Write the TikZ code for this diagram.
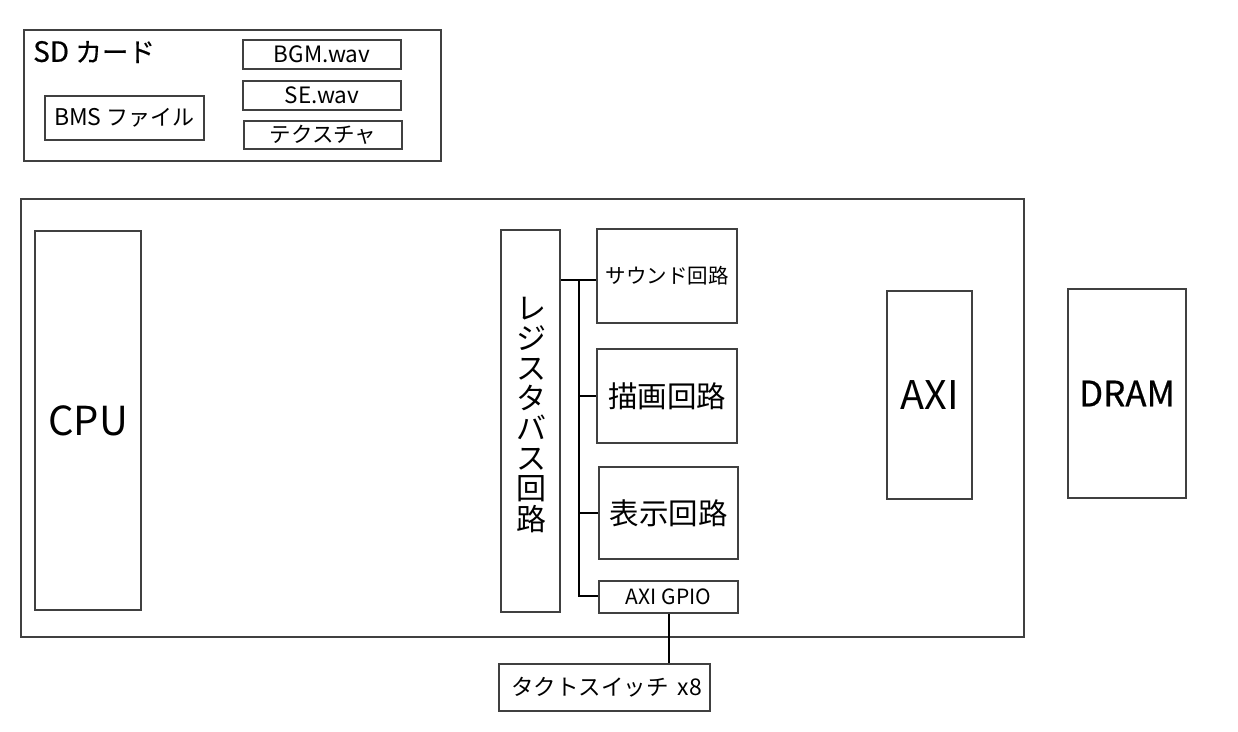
\documentclass[tikz,border=0pt]{standalone}
\usepackage{fontspec}
\setmainfont{Noto Sans CJK JP}
\newfontfamily\heavy{Noto Sans CJK JP}[FakeBold=0.5]
\newcommand{\fs}[1]{\fontsize{#1}{#1}\selectfont}
\begin{document}
\begin{tikzpicture}[x=1pt,y=-1pt,
  box/.style={draw=black!75, line width=1.1pt, rectangle, inner sep=0pt, fill=none},
  wire/.style={draw=black, line width=2pt}]
\useasboundingbox (0,0) rectangle (1238,731);
% SD card
\node[box, minimum width=417, minimum height=131] (sd) at (232.5,95.5) {};
\node[anchor=west, inner sep=0pt, font=\fs{28}\heavy] (sdlabel) at (33,52) {SD {\fs{26.5}カード}};
\node[box, minimum width=158, minimum height=29, font=\fs{22.5}] (bgm) at (322,54.5) {BGM.wav};
\node[box, minimum width=158, minimum height=29, font=\fs{22.5}] (se) at (322,95.5) {SE.wav};
\node[box, minimum width=158, minimum height=28, font=\fs{21.5}] (tex) at (323,135) {テクスチャ};
\node[box, minimum width=159, minimum height=44, font=\fs{23}] (bms) at (124.5,118) {BMS {\fs{22}ファイル}};
% main board
\node[box, minimum width=1003, minimum height=438] (main) at (522.5,418) {};
\node[box, minimum width=106, minimum height=379, font=\fs{40}] (cpu) at (88,420.5) {CPU};
\node[box, minimum width=59, minimum height=382] (reg) at (530.5,421) {};
\node[align=center, inner sep=0pt, font=\fs{30}] (regtext) at (531,415) {レ\\ジ\\ス\\タ\\バ\\ス\\回\\路};
\node[box, minimum width=140, minimum height=94, font=\fs{20.5}] (sound) at (667,276) {サウンド回路};
\node[box, minimum width=140, minimum height=94, font=\fs{29.5}] (drawc) at (667,396) {描画回路};
\node[box, minimum width=139, minimum height=92, font=\fs{29.5}] (disp) at (668.5,513) {表示回路};
\node[box, minimum width=139, minimum height=32, font=\fs{21}] (gpio) at (668.5,597) {AXI GPIO};
\node[box, minimum width=211, minimum height=47, font=\fs{22.5}] (tact) at (604.5,687.5) {\hspace{4pt}タクトスイッチ\hspace{9pt}{\fs{23}x8}};
\node[box, minimum width=85, minimum height=208, font=\fs{39.5}] (axi) at (929.5,395) {AXI};
\node[box, minimum width=118, minimum height=209, font=\fs{35}\heavy] (dram) at (1127,393.5) {DRAM};
% bus wiring
\coordinate (bustop) at (579,280);
\coordinate (busbot) at (579,596);
\draw[wire] (reg.east |- bustop) -- (sound.west |- bustop);
\draw[wire] (bustop) -- (busbot) -- (gpio.west |- busbot);
\draw[wire] (bustop |- drawc.west) -- (drawc.west);
\draw[wire] (bustop |- disp.west) -- (disp.west);
\draw[wire] (gpio.south) -- (gpio.south |- tact.north);
\end{tikzpicture}
\end{document}
